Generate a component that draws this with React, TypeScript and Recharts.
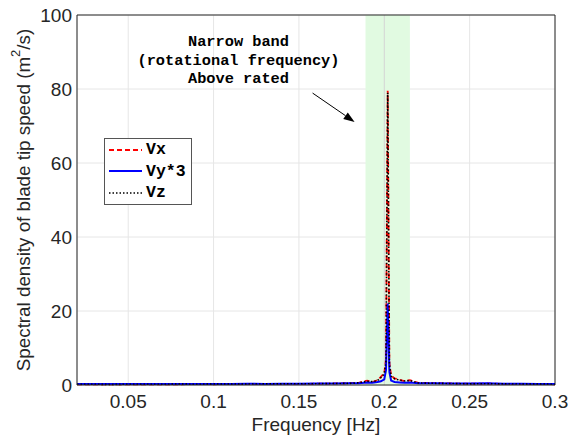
import { LineChart, Line, XAxis, YAxis, CartesianGrid, ReferenceArea, ReferenceLine, ReferenceDot, Legend } from "recharts";

const FREQ = [0.02, 0.03, 0.04, 0.05, 0.06, 0.07, 0.08, 0.09, 0.1, 0.11, 0.12, 0.13, 0.14, 0.15, 0.16, 0.17, 0.18, 0.185, 0.19, 0.193, 0.196, 0.198, 0.2, 0.201, 0.202, 0.203, 0.204, 0.206, 0.209, 0.212, 0.215, 0.22, 0.23, 0.24, 0.25, 0.26, 0.27, 0.28, 0.29, 0.3];
const VX = [0.2, 0.15, 0.15, 0.2, 0.15, 0.2, 0.2, 0.25, 0.2, 0.25, 0.3, 0.25, 0.3, 0.3, 0.35, 0.4, 0.5, 0.6, 1.2, 0.8, 1.3, 2.2, 3.2, 7, 79.5, 6, 2.6, 1.8, 1.4, 1.0, 1.3, 0.6, 0.5, 0.4, 0.35, 0.4, 0.3, 0.3, 0.25, 0.2];
const VY3 = [0.3, 0.25, 0.25, 0.3, 0.25, 0.3, 0.3, 0.3, 0.3, 0.3, 0.35, 0.3, 0.35, 0.35, 0.4, 0.4, 0.45, 0.5, 0.7, 0.6, 0.8, 1.0, 1.5, 4, 22, 3.5, 1.2, 0.8, 0.7, 0.6, 0.7, 0.5, 0.45, 0.4, 0.4, 0.45, 0.35, 0.35, 0.3, 0.3];
const VZ = [0.2, 0.2, 0.15, 0.2, 0.2, 0.2, 0.25, 0.2, 0.25, 0.25, 0.25, 0.3, 0.3, 0.35, 0.35, 0.4, 0.45, 0.6, 1.0, 0.9, 1.2, 2.0, 3.0, 6.5, 79, 5.5, 2.4, 1.7, 1.3, 1.1, 1.2, 0.55, 0.45, 0.4, 0.3, 0.35, 0.3, 0.25, 0.25, 0.2];
const X_TICKS = [0.05, 0.1, 0.15, 0.2, 0.25, 0.3];
const Y_TICKS = [0, 20, 40, 60, 80, 100];
const NOTE = ["Narrow band", "(rotational frequency)", "Above rated"];

const data = FREQ.map((f, i) => ({ f, vx: VX[i], vy: VY3[i], vz: VZ[i] }));

const MONO = "'Liberation Mono', 'Courier New', monospace";
const SANS = "'Liberation Sans', Arial, sans-serif";
const FS = 19;

const series = [
  { key: "vx", name: "Vx", color: "#ff0000", dash: "5 3", width: 1.8 },
  { key: "vy", name: "Vy*3", color: "#0000ff", dash: undefined, width: 2 },
  { key: "vz", name: "Vz", color: "#000000", dash: "1.5 2", width: 1.6 },
];

function LegendBox() {
  return (
    <div style={{ border: "1px solid #555", background: "#fff", padding: "0 5px 0 4px", fontFamily: MONO, fontWeight: 700, fontSize: 16.5, color: "#000", lineHeight: "21.5px" }}>
      {series.map((s) => (
        <div key={s.key} style={{ display: "flex", alignItems: "center" }}>
          <svg width={33} height={8} style={{ marginRight: 4 }}>
            <line x1={0} y1={4} x2={33} y2={4} stroke={s.color} strokeWidth={s.width} strokeDasharray={s.dash} />
          </svg>
          <span>{s.name}</span>
        </div>
      ))}
    </div>
  );
}

function YLabel(props: any) {
  const vb = props.viewBox || {};
  const cx = 23;
  const cy = (vb.y ?? 15) + (vb.height ?? 370) / 2;
  return (
    <text x={cx} y={cy} transform={`rotate(-90 ${cx} ${cy})`} textAnchor="middle" dominantBaseline="central" fontFamily={SANS} fontSize={18.8} fill="#262626">
      <tspan>Spectral density of blade tip speed (m</tspan>
      <tspan dy={-8} fontSize={13}>2</tspan>
      <tspan dy={8}>/s)</tspan>
    </text>
  );
}

function XLabel(props: any) {
  const vb = props.viewBox || {};
  const cx = (vb.x ?? 77) + (vb.width ?? 478) / 2;
  return (
    <text x={cx} y={431} textAnchor="middle" fontFamily={SANS} fontSize={FS} fill="#262626">
      Frequency [Hz]
    </text>
  );
}

function Arrow(props: any) {
  const { x1, y1, x2, y2 } = props;
  const a = Math.atan2(y2 - y1, x2 - x1);
  const L = 11, W = 4;
  const bx = x2 - L * Math.cos(a), by = y2 - L * Math.sin(a);
  const p1 = `${bx + W * Math.sin(a)},${by - W * Math.cos(a)}`;
  const p2 = `${bx - W * Math.sin(a)},${by + W * Math.cos(a)}`;
  return (
    <g>
      <line x1={x1} y1={y1} x2={bx} y2={by} stroke="#000" strokeWidth={1} />
      <polygon points={`${x2},${y2} ${p1} ${p2}`} fill="#000" />
    </g>
  );
}

function Note(props: any) {
  const { cx, cy } = props;
  return (
    <text x={cx} y={cy} textAnchor="middle" fontFamily={MONO} fontWeight={700} fontSize={15.3} fill="#000">
      {NOTE.map((t, i) => (
        <tspan key={i} x={cx} dy={i === 0 ? 0 : 18.5}>{t}</tspan>
      ))}
    </text>
  );
}

export default function App() {
  return (
    <div style={{ position: "absolute", left: 0, top: 0, width: 587, height: 445, background: "#fff" }}>
      <LineChart width={587} height={445} data={data} margin={{ top: 15, right: 32, left: 0, bottom: 0 }}>
        <CartesianGrid stroke="#e6e6e6" />
        <ReferenceArea x1={0.189} x2={0.215} y1={0} y2={100} fill="#e1fae1" fillOpacity={1} stroke="none" />
        <ReferenceLine x={0.2} stroke="#d4d4d4" />
        <XAxis
          dataKey="f"
          type="number"
          domain={[0.02, 0.3]}
          ticks={X_TICKS}
          allowDataOverflow
          height={60}
          tickLine={false}
          tickSize={6}
          tickMargin={4}
          stroke="#262626"
          tick={{ fontSize: FS, fill: "#262626", fontFamily: SANS }}
          tickFormatter={(v: number) => String(v)}
          label={{ content: XLabel }}
        />
        <YAxis
          type="number"
          domain={[0, 100]}
          ticks={Y_TICKS}
          width={77}
          tickLine={false}
          tickSize={0}
          tickMargin={5}
          stroke="#262626"
          tick={{ fontSize: FS, fill: "#262626", fontFamily: SANS }}
          label={{ content: YLabel }}
        />
        <ReferenceLine y={100} stroke="#262626" />
        <ReferenceLine x={0.3} stroke="#262626" />
        {series.map((s) => (
          <Line key={s.key} dataKey={s.key} name={s.name} type="linear" stroke={s.color} strokeWidth={s.width} strokeDasharray={s.dash} dot={false} isAnimationActive={false} />
        ))}
        <ReferenceLine segment={[{ x: 0.158, y: 78.9 }, { x: 0.1826, y: 71.1 }]} shape={Arrow} />
        <ReferenceDot x={0.1146} y={91.5} r={0} shape={Note} />
        <Legend layout="vertical" align="center" verticalAlign="middle" content={() => <LegendBox />} wrapperStyle={{ position: "absolute", left: 104, top: 138, width: "auto" }} />
      </LineChart>
    </div>
  );
}
